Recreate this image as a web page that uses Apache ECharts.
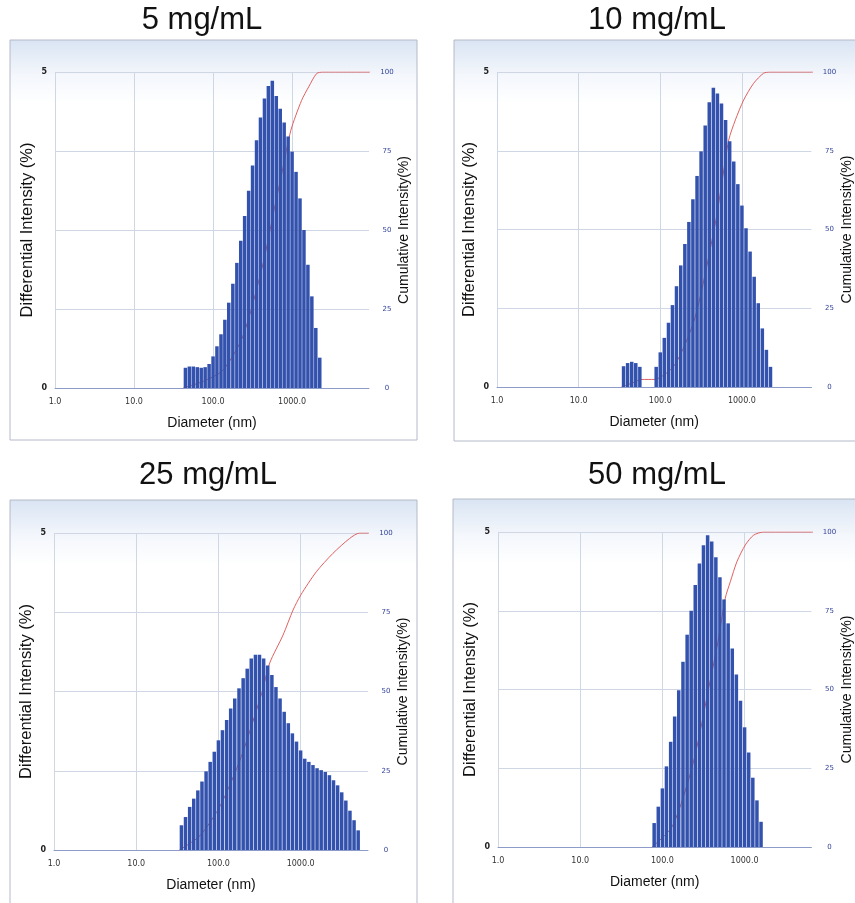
<!DOCTYPE html>
<html>
<head>
<meta charset="utf-8">
<script src="https://cdn.jsdelivr.net/npm/echarts@6/dist/echarts.min.js"></script>
<style>
  html, body { margin: 0; padding: 0; background: #fff; }
  #main { width: 855px; height: 903px; }
</style>
</head>
<body>
<div id="main"></div>
<script>
// 粒径分布 (DLS) - 4 个浓度

// 直方图的分档 (nm)
const diameters = [28.2, 31.6, 35.5, 39.8, 44.7, 50.1, 56.2, 63.1, 70.8, 79.4,
    89.1, 100, 112, 126, 141, 158, 178, 200, 224, 251,
    282, 316, 355, 398, 447, 501, 562, 631, 708, 794,
    891, 1000, 1122, 1259, 1413, 1585, 1778, 1995, 2239, 2512,
    2818, 3162, 3548, 3981, 4467, 5012, 5623]

const titles = ['5 mg/mL', '10 mg/mL', '25 mg/mL', '50 mg/mL']

// Differential Intensity (%)
const diff5 = [0, 0, 0, 0, 0.32, 0.34, 0.34, 0.33, 0.32, 0.33,
    0.38, 0.50, 0.66, 0.85, 1.08, 1.35, 1.65, 1.98, 2.33, 2.72,
    3.12, 3.52, 3.92, 4.28, 4.58, 4.78, 4.86, 4.62, 4.42, 4.20,
    3.98, 3.74, 3.42, 3.00, 2.50, 1.95, 1.45, 0.95, 0.48, 0,
    0, 0, 0, 0, 0, 0, 0]
const diff10 = [0, 0, 0.33, 0.38, 0.40, 0.38, 0.32, 0, 0, 0,
    0.32, 0.55, 0.78, 1.02, 1.30, 1.60, 1.93, 2.27, 2.62, 2.98,
    3.35, 3.74, 4.15, 4.52, 4.75, 4.66, 4.50, 4.24, 3.90, 3.58,
    3.22, 2.88, 2.52, 2.15, 1.75, 1.33, 0.93, 0.59, 0.32, 0,
    0, 0, 0, 0, 0, 0, 0]
const diff25 = [0, 0, 0.39, 0.52, 0.68, 0.81, 0.94, 1.08, 1.24, 1.39,
    1.55, 1.73, 1.89, 2.05, 2.23, 2.39, 2.55, 2.71, 2.86, 3.02,
    3.08, 3.08, 3.02, 2.91, 2.76, 2.57, 2.39, 2.18, 2.00, 1.84,
    1.71, 1.57, 1.44, 1.39, 1.34, 1.29, 1.26, 1.23, 1.18, 1.10,
    1.02, 0.91, 0.78, 0.62, 0.47, 0.31, 0]
const diff50 = [0, 0, 0, 0, 0, 0, 0, 0, 0, 0.38,
    0.64, 0.93, 1.28, 1.67, 2.07, 2.49, 2.94, 3.37, 3.75, 4.16,
    4.50, 4.79, 4.95, 4.85, 4.60, 4.28, 3.93, 3.55, 3.15, 2.74,
    2.32, 1.90, 1.50, 1.10, 0.74, 0.40, 0, 0, 0, 0,
    0, 0, 0, 0, 0, 0, 0]

// Cumulative Intensity (%)
const cumD5 = [42, 75, 133, 237, 422, 596, 750, 966, 1318, 1622, 2042, 2455, 10000]
const cumP5 = [0, 2.1, 5.6, 16.2, 38.6, 56.7, 68.5, 81.6, 91, 95.3, 99.5, 100, 100]
const cumD10 = [33.5, 44.7, 59.6, 84.1, 150, 266, 473, 562, 689, 832, 1050, 1390, 1841, 2218, 10000]
const cumP10 = [0, 1.2, 2.4, 2.4, 7, 22, 52, 64, 78.4, 84.8, 91.1, 96.4, 99.6, 100, 100]
const cumD25 = [33.5, 59.6, 106, 188, 335, 421, 611, 809, 1002, 1556, 2477, 3954, 5236, 10000]
const cumP25 = [0, 4.5, 14.1, 29.2, 49.3, 59, 67.8, 75.7, 80.4, 87.8, 93.6, 98.3, 100, 100]
const cumD50 = [75, 133, 237, 376, 473, 582, 670, 807, 1021, 1288, 1706, 10000]
const cumP50 = [0, 6.7, 26.7, 52, 65, 79, 84.2, 90.6, 95.9, 99, 100, 100]

// x 轴范围
const xMin = 1
const xMax = [9400, 7100, 6600, 6500]

//布局
const panels = [
    { diff: diff5, cumD: cumD5, cumP: cumP5, grid: { left: 55, top: 72, width: 314, height: 316 }, frame: [10, 40, 407, 400], titlePos: [202, 20] },
    { diff: diff10, cumD: cumD10, cumP: cumP10, grid: { left: 497, top: 72, width: 316, height: 315 }, frame: [454, 40, 410, 401], titlePos: [657, 20] },
    { diff: diff25, cumD: cumD25, cumP: cumP25, grid: { left: 54, top: 533, width: 314, height: 317 }, frame: [10, 500, 407, 410], titlePos: [208, 475] },
    { diff: diff50, cumD: cumD50, cumP: cumP50, grid: { left: 498, top: 532, width: 315, height: 315 }, frame: [453, 499, 410, 410], titlePos: [657, 475] }
]

const gridColor = '#cfd6e4'
const barColor = '#3352ad'
const lineColor = '#e06060'
const tickFont = 'DejaVu Sans'
const nameFont = 'Liberation Sans'

const grids = []
const xAxes = []
const yAxes = []
const series = []
const graphics = []

panels.forEach((p, i) => {
    grids.push(Object.assign({ containLabel: false }, p.grid))

    xAxes.push({
        type: 'log',
        logBase: 10,
        gridIndex: i,
        min: xMin,
        max: xMax[i],
        name: 'Diameter (nm)',
        nameLocation: 'middle',
        nameGap: 28,
        nameTextStyle: { fontFamily: nameFont, fontSize: 14, color: '#111' },
        axisLine: { show: true, lineStyle: { color: '#8d9bc8', width: 1 } },
        axisTick: { show: false },
        axisLabel: {
            showMaxLabel: false,
            margin: 10,
            fontFamily: tickFont,
            fontSize: 8,
            color: '#333',
            formatter: (v) => Number(v).toFixed(1)
        },
        splitLine: { show: true, showMaxLine: false, lineStyle: { color: gridColor, width: 1 } }
    })

    // 左轴 Differential
    yAxes.push({
        type: 'value',
        gridIndex: i,
        position: 'left',
        min: 0,
        max: 5,
        interval: 1.25,
        name: 'Differential Intensity (%)',
        nameLocation: 'middle',
        nameRotate: 90,
        nameGap: 19,
        nameTextStyle: { fontFamily: nameFont, fontSize: 16.5, color: '#111' },
        axisLine: { show: false },
        axisTick: { show: false },
        axisLabel: {
            margin: 8,
            fontFamily: tickFont,
            fontSize: 8,
            fontWeight: 'bold',
            color: '#222',
            formatter: (v) => (v === 0 || v === 5) ? String(v) : ''
        },
        splitLine: { show: true, lineStyle: { color: gridColor, width: 1 } }
    })

    // 右轴 Cumulative
    yAxes.push({
        type: 'value',
        gridIndex: i,
        position: 'right',
        min: 0,
        max: 100,
        interval: 25,
        name: 'Cumulative Intensity(%)',
        nameLocation: 'middle',
        nameRotate: 90,
        nameGap: 27,
        nameTextStyle: { fontFamily: nameFont, fontSize: 14, color: '#111' },
        axisLine: { show: false },
        axisTick: { show: false },
        axisLabel: {
            margin: 18,
            align: 'center',
            fontFamily: tickFont,
            fontSize: 7,
            color: '#34449a'
        },
        splitLine: { show: false }
    })

    series.push({
        type: 'bar',
        xAxisIndex: i,
        yAxisIndex: i * 2,
        barWidth: 3.5,
        itemStyle: { color: barColor },
        z: 3,
        data: diameters.map((d, k) => [d, p.diff[k]])
    })

    series.push({
        type: 'line',
        xAxisIndex: i,
        yAxisIndex: i * 2 + 1,
        showSymbol: false,
        smooth: 0.25,
        lineStyle: { color: lineColor, width: 1 },
        z: 2,
        data: p.cumD.map((d, k) => [d, p.cumP[k]])
    })

    //外框
    const f = p.frame
    graphics.push({
        type: 'rect',
        z: -10,
        shape: { x: f[0], y: f[1], width: f[2], height: f[3] },
        style: {
            fill: {
                type: 'linear', x: 0, y: 0, x2: 0, y2: 1,
                colorStops: [
                    { offset: 0, color: '#d9e4f3' },
                    { offset: 0.09, color: '#f4f7fc' },
                    { offset: 0.16, color: '#ffffff' },
                    { offset: 1, color: '#ffffff' }
                ]
            },
            stroke: '#b4bac6',
            lineWidth: 1
        }
    })

    //标题
    graphics.push({
        type: 'text',
        x: p.titlePos[0],
        y: p.titlePos[1],
        style: {
            text: titles[i],
            fontFamily: 'Liberation Sans',
            fontSize: 31,
            fill: '#111',
            align: 'center',
            verticalAlign: 'middle'
        }
    })
})

const mychart = echarts.init(document.getElementById('main'), null, { renderer: 'canvas' })
const option = {
    backgroundColor: '#fff',
    animation: false,
    grid: grids,
    xAxis: xAxes,
    yAxis: yAxes,
    graphic: graphics,
    series: series
}
mychart.setOption(option)
</script>
</body>
</html>
